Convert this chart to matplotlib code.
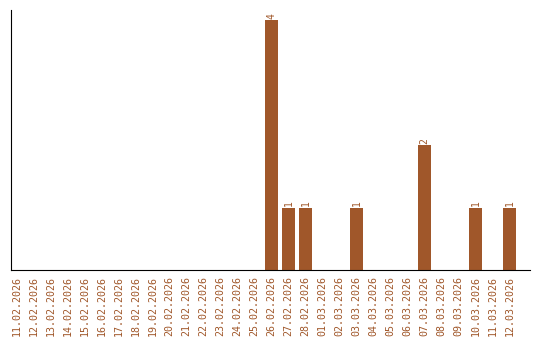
import matplotlib
matplotlib.use("Agg")
import matplotlib.pyplot as plt
import numpy as np

dates = [
    "11.02.2026", "12.02.2026", "13.02.2026", "14.02.2026", "15.02.2026",
    "16.02.2026", "17.02.2026", "18.02.2026", "19.02.2026", "20.02.2026",
    "21.02.2026", "22.02.2026", "23.02.2026", "24.02.2026", "25.02.2026",
    "26.02.2026", "27.02.2026", "28.02.2026", "01.03.2026", "02.03.2026",
    "03.03.2026", "04.03.2026", "05.03.2026", "06.03.2026", "07.03.2026",
    "08.03.2026", "09.03.2026", "10.03.2026", "11.03.2026", "12.03.2026",
]
counts = [0, 0, 0, 0, 0, 0, 0, 0, 0, 0, 0, 0, 0, 0, 0,
          4, 1, 1, 0, 0, 1, 0, 0, 0, 2, 0, 0, 1, 0, 1]

color = "#a0572a"
plt.rcParams['font.family'] = ['DejaVu Sans Mono']

fig = plt.figure(figsize=(5.4, 3.4), dpi=100)
ax = fig.add_axes([11 / 540, 70 / 340, 519 / 540, 260 / 340])

x = np.arange(len(dates))
ax.bar(x, counts, width=0.8, color=color)
for xi, c in zip(x, counts):
    if c > 0:
        ax.text(xi, c + 0.02, str(c), rotation=90, ha='center', va='bottom',
                color=color, fontsize=7)

ax.set_xlim(-0.32, 30.2)
ax.set_ylim(0, 4.16)
ax.set_xticks(x)
ax.set_xticklabels(dates, rotation=90, color=color, fontsize=7.2)
ax.tick_params(axis='x', length=0, pad=4)
ax.set_yticks([])
ax.spines['top'].set_visible(False)
ax.spines['right'].set_visible(False)

fig.savefig("out.png", dpi=100)
